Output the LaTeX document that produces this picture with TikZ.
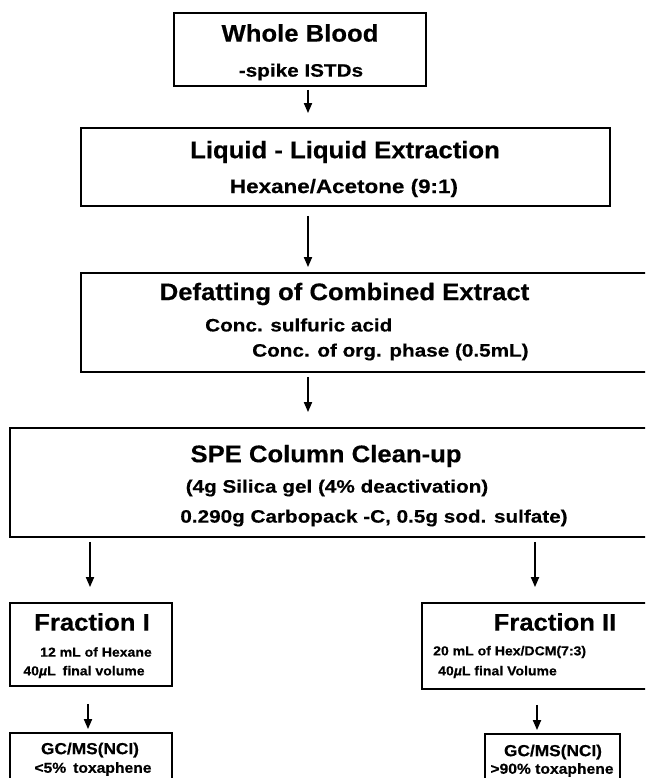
\documentclass[tikz,border=0pt]{standalone}
\usepackage{fontspec}
\setmainfont{Liberation Sans}
\newfontfamily\ttlfont{Liberation Sans}[FakeStretch=1.07,FakeBold=0.4]
\newfontfamily\subfont{Liberation Sans}[FakeStretch=1.15,FakeBold=0.4]
\newfontfamily\smlfont{Liberation Sans}[FakeStretch=1.08,FakeBold=0.4]
\usetikzlibrary{arrows.meta}
\begin{document}
\begin{tikzpicture}[x=1pt,y=-1pt,
  box/.style={draw=black,line width=1.8pt,rectangle,inner sep=0pt},
  arr/.style={line width=1.8pt,-{Triangle[length=10pt,width=8pt]}},
  ttl/.style={font=\ttlfont\fontsize{24}{26}\selectfont\bfseries,inner sep=0pt},
  sub/.style={font=\subfont\fontsize{18}{20}\selectfont\bfseries,inner sep=0pt},
  sml/.style={font=\smlfont\fontsize{13}{15}\selectfont\bfseries,inner sep=0pt},
  gc/.style={font=\smlfont\fontsize{16}{18}\selectfont\bfseries,inner sep=0pt},
  tox/.style={font=\smlfont\fontsize{14.5}{16}\selectfont\bfseries,inner sep=0pt}]
\useasboundingbox (0,0) rectangle (645,778);
\clip (0,0) rectangle (645,778);
% boxes
\node[box,minimum width=252pt,minimum height=73pt] (b1) at (300,49.5) {};
\node[box,minimum width=529pt,minimum height=78pt] (b2) at (345.5,167) {};
\node[box,minimum width=569pt,minimum height=99pt] (b3) at (365.5,322.5) {};
\node[box,minimum width=640pt,minimum height=109pt] (b4) at (330,482.5) {};
\node[box,minimum width=162pt,minimum height=83pt] (f1) at (91,644.5) {};
\node[box,minimum width=228pt,minimum height=86pt] (f2) at (536,646) {};
\node[box,minimum width=162pt,minimum height=57pt] (g1) at (91,761.5) {};
\node[box,minimum width=135pt,minimum height=57pt] (g2) at (552.5,762.5) {};
% texts
\node[ttl] (t1) at (300,33) {Whole Blood};
\node[sub] (t2) at (301,72) {-spike ISTDs};
\node[ttl] (t3) at (345,152) {Liquid - Liquid Extraction};
\node[sub,font=\subfont\fontsize{19.5}{21}\selectfont\bfseries] (t4) at (344,188) {Hexane/Acetone (9:1)};
\node[ttl] (t5) at (344.5,294) {Defatting of Combined Extract};
\node[sub,anchor=west] (t6) at (205,325) {Conc. sulfuric acid};
\node[sub,anchor=west] (t7) at (252,352) {Conc. of org. phase (0.5mL)};
\node[ttl] (t8) at (326,456) {SPE Column Clean-up};
\node[sub] (t9) at (337,488) {(4g Silica gel (4\% deactivation)};
\node[sub] (t10) at (374,518) {0.290g Carbopack -C, 0.5g sod. sulfate)};
\node[ttl] (t11) at (92,622) {Fraction I};
\node[sml] (t12) at (96,652) {12 mL of Hexane};
\node[sml] (t13) at (84,672) {40{\itshape µ}L\hspace{7pt}final volume};
\node[ttl] (t14) at (555,622) {Fraction II};
\node[sml,anchor=west] (t15) at (433,652) {20 mL of Hex/DCM(7:3)};
\node[sml,anchor=west] (t16) at (438,672) {40{\itshape µ}L final Volume};
\node[gc] (t17) at (90,750) {GC/MS(NCI)};
\node[tox] (t18) at (93,769) {<5\%\hspace{7pt}toxaphene};
\node[gc] (t19) at (553,752) {GC/MS(NCI)};
\node[tox] (t20) at (552,770) {>90\% toxaphene};
% arrow x positions
\coordinate (xa) at (308,0);
\coordinate (xl) at (90,0);
\coordinate (xr) at (535,0);
\coordinate (xl2) at (88,0);
\coordinate (xr2) at (537,0);
% connectors
\draw[arr] ([yshift=-3pt]b1.south -| xa) -- ([yshift=14pt]b2.north -| xa);
\draw[arr] ([yshift=-9pt]b2.south -| xa) -- ([yshift=5pt]b3.north -| xa);
\draw[arr] ([yshift=-4pt]b3.south -| xa) -- ([yshift=15pt]b4.north -| xa);
\draw[arr] ([yshift=-4pt]b4.south -| xl) -- ([yshift=15pt]f1.north -| xl);
\draw[arr] ([yshift=-4pt]b4.south -| xr) -- ([yshift=15pt]f2.north -| xr);
\draw[arr] ([yshift=-17pt]f1.south -| xl2) -- ([yshift=3pt]g1.north -| xl2);
\draw[arr] ([yshift=-15pt]f2.south -| xr2) -- ([yshift=3pt]g2.north -| xr2);
\end{tikzpicture}
\end{document}
